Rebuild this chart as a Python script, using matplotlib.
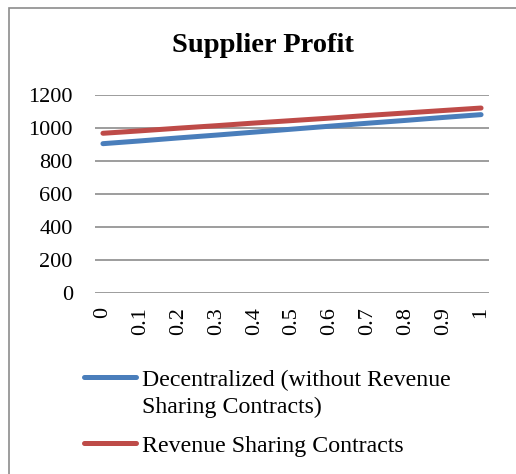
import numpy as np
import matplotlib.pyplot as plt
from matplotlib.patches import Rectangle
from matplotlib.lines import Line2D

plt.rcParams['font.family'] = ['Liberation Serif', 'DejaVu Serif']

# Datos
x_labels = ['0', '0.1', '0.2', '0.3', '0.4', '0.5', '0.6', '0.7', '0.8', '0.9', '1']
decentralized = [905, 922, 940, 957, 975, 993, 1011, 1029, 1046, 1064, 1081]
revenue_sharing = [968, 983, 999, 1014, 1030, 1045, 1060, 1076, 1091, 1106, 1121]
y_ticks = [0, 200, 400, 600, 800, 1000, 1200]
series_names = ['Decentralized (without Revenue\nSharing Contracts)',
                'Revenue Sharing Contracts']
colors = ['#4a7ebb', '#be4b48']

W, H = 516, 474
fig = plt.figure(figsize=(W / 100, H / 100), dpi=100)
ax = fig.add_axes([95 / W, 1 - 293 / H, 394 / W, 198 / H])

# Marco exterior del gráfico
fig.patches.append(Rectangle((9 / W, -0.1), 1.2, 1 - 8 / H + 0.1,
                             transform=fig.transFigure, fill=False,
                             edgecolor='#8c8c8c', linewidth=1.2))

pos = np.arange(len(x_labels))
for vals, c in zip([decentralized, revenue_sharing], colors):
    ax.plot(pos, vals, color=c, linewidth=3.6, solid_capstyle='round')

ax.set_xlim(-0.21, len(x_labels) - 1 + 0.21)
ax.set_ylim(0, 1200)
ax.set_yticks(y_ticks)
ax.set_xticks(pos)
ax.set_xticklabels(x_labels, rotation=90, fontsize=16)
ax.tick_params(axis='y', labelsize=16, length=0, pad=16)
ax.tick_params(axis='x', length=0, pad=10)
ax.grid(axis='y', color='#8c8c8c', linewidth=1.2)
ax.set_axisbelow(True)
for s in ax.spines.values():
    s.set_visible(False)

fig.text(263 / W, 1 - 46 / H, 'Supplier Profit', ha='center', va='center',
         fontsize=20.5, fontweight='bold')

# Leyenda dibujada a mano (línea alineada con la primera línea del texto)
legend_y = [377, 443]
for name, c, yy in zip(series_names, colors, legend_y):
    yf = 1 - yy / H
    fig.add_artist(Line2D([84 / W, 136 / W], [yf, yf], transform=fig.transFigure,
                          color=c, linewidth=3.6, solid_capstyle='round'))
    fig.text(142 / W, 1 - (yy - 7) / H, name, ha='left', va='top',
             fontsize=17.2, linespacing=1.35)

fig.savefig('out.png', dpi=100)
